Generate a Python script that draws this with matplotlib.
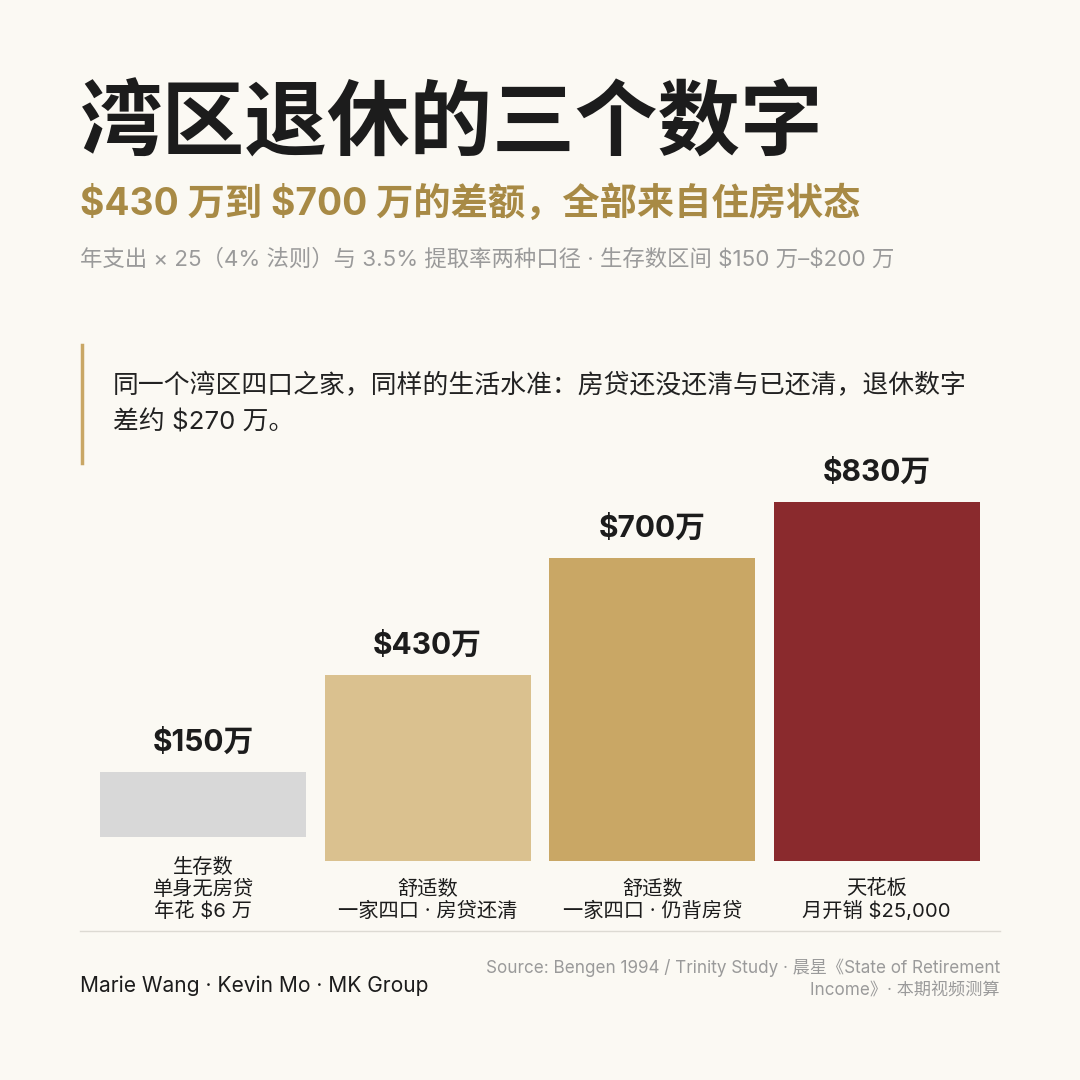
import matplotlib.pyplot as plt
from matplotlib.lines import Line2D

# data
values = [150, 430, 700, 830]
value_labels = ["$150万", "$430万", "$700万", "$830万"]
categories = ["生存数\n单身无房贷\n年花 $6 万",
              "舒适数\n一家四口 · 房贷还清",
              "舒适数\n一家四口 · 仍背房贷",
              "天花板\n月开销 $25,000"]
bar_colors = ["#D8D8D8", "#DAC18F", "#C9A765", "#8A2A2D"]

BG = "#FBF9F3"
FONT = ["Inter", "Noto Sans CJK SC", "DejaVu Sans"]
plt.rcParams['font.family'] = FONT
plt.rcParams['text.parse_math'] = False  # dollar signs are literal

fig = plt.figure(figsize=(10.8, 10.8), dpi=100)
fig.patch.set_facecolor(BG)

W = H = 1080.0


def fx(px):
    return px / W


def fy(py):
    return 1 - py / H


# header
fig.text(fx(80), fy(127), "湾区退休的三个数字", fontsize=59.5, fontweight='bold',
         color="#1C1C1C", va='center', ha='left')
fig.text(fx(80), fy(204), "$430 万到 $700 万的差额，全部来自住房状态", fontsize=26.8,
         fontweight='bold', color="#A88A45", va='center', ha='left')
fig.text(fx(80), fy(259), "年支出 × 25（4% 法则）与 3.5% 提取率两种口径 · 生存数区间 $150 万–$200 万",
         fontsize=16.1, color="#9A9A9A", va='center', ha='left')

# quote block
fig.add_artist(Line2D([fx(81.5), fx(81.5)], [fy(345), fy(463)], color="#C9A765",
                      linewidth=2.5, transform=fig.transFigure))
fig.text(fx(113), fy(386), "同一个湾区四口之家，同样的生活水准：房贷还没还清与已还清，退休数字",
         fontsize=18.6, color="#222222", va='center', ha='left')
fig.text(fx(113), fy(422), "差约 $270 万。", fontsize=18.6, color="#222222",
         va='center', ha='left')

# bars
base_px = 861
top_px = 461
ymax = 925
ax = fig.add_axes([fx(91), fy(base_px), fx(989) - fx(91), (base_px - top_px) / H])
ax.set_facecolor(BG)
ax.set_xlim(-0.5, 3.5)
ax.set_ylim(0, ymax)
ax.axis('off')

px_per_unit = (base_px - top_px) / ymax
lift = 24 / px_per_unit  # first bar sits higher (three-line label)
bottoms = [lift, 0, 0, 0]
x = list(range(len(values)))
ax.bar(x, values, width=0.918, bottom=bottoms, color=bar_colors)

for i, v in enumerate(values):
    ax.annotate(value_labels[i], (x[i], v + bottoms[i]), xytext=(0, 11),
                textcoords='offset points', ha='center', va='bottom',
                fontsize=21.5, fontweight='bold', color="#1C1C1C")
    ax.text(x[i], -60 / (base_px - top_px), categories[i],
            transform=ax.get_xaxis_transform(), ha='center', va='bottom',
            multialignment='center', fontsize=14.6, color="#1C1C1C", linespacing=1.18)

# footer
fig.add_artist(Line2D([fx(80), fx(1000)], [fy(931), fy(931)], color="#DDDAD3",
                      linewidth=1, transform=fig.transFigure))
fig.text(fx(80), fy(986), "Marie Wang · Kevin Mo · MK Group", fontsize=15.1,
         color="#1C1C1C", va='center', ha='left')
fig.text(fx(1000), fy(979), "Source: Bengen 1994 / Trinity Study · 晨星《State of Retirement\nIncome》· 本期视频测算",
         fontsize=12.3, color="#9A9A9A", va='center', ha='right',
         multialignment='right', linespacing=1.38)

fig.savefig("out.png", dpi=100, facecolor=BG)
